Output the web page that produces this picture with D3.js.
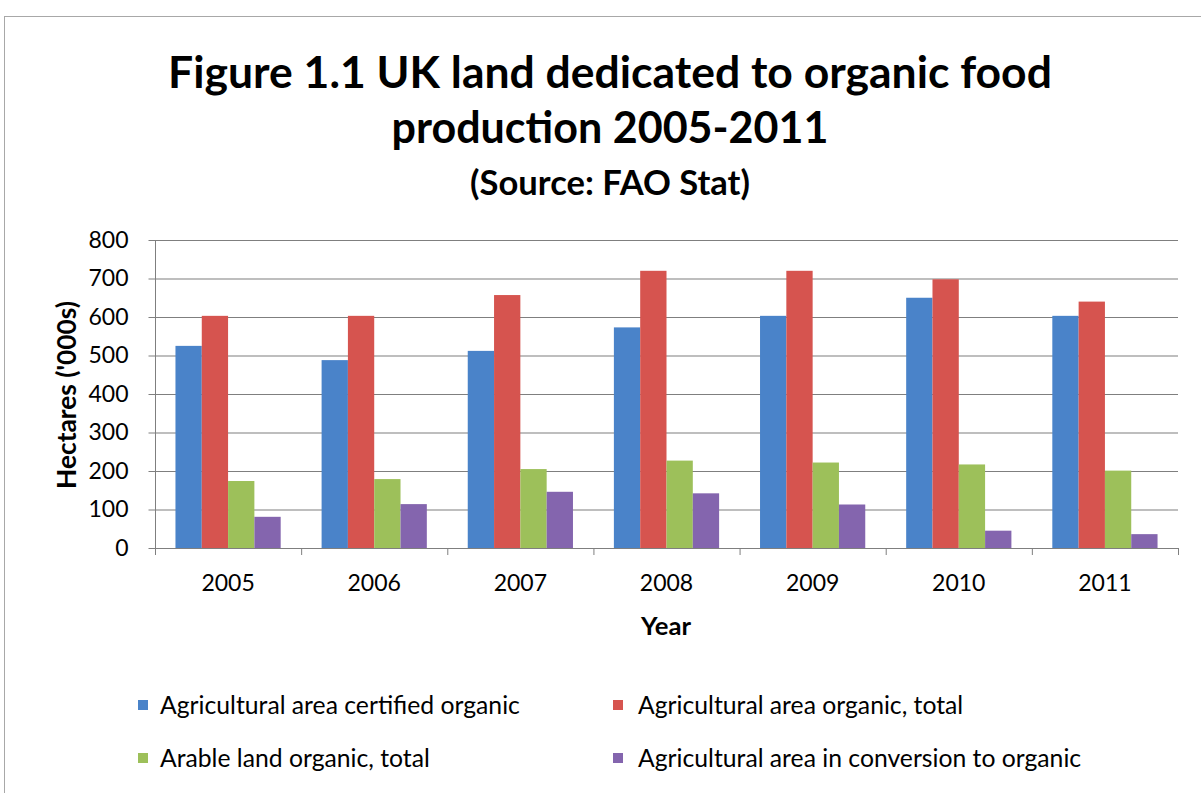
<!DOCTYPE html>
<html><head><meta charset="utf-8">
<script src="https://cdn.jsdelivr.net/npm/d3@7"></script>
<style>body{margin:0;background:#fff;} text{font-family:Lato, "Open Sans", sans-serif; fill:#000;}</style>
</head><body>
<svg id="c" width="1201" height="793"></svg>
<script>
const years = ["2005","2006","2007","2008","2009","2010","2011"];
const seriesNames = ["Agricultural area certified organic","Agricultural area organic, total","Arable land organic, total","Agricultural area in conversion to organic"];
const certified = [525, 488, 512, 573, 603, 650, 603];
const organicTotal = [603, 603, 657, 720, 720, 698, 640];
const arable = [174, 179, 205, 227, 222, 217, 201];
const conversion = [81, 114, 146, 142, 113, 45, 36];
const yTicks = [0,100,200,300,400,500,600,700,800];
const colors = ["#4a83c9","#d6544f","#9dc05a","#8465ae"];
const seriesValues = [certified, organicTotal, arable, conversion];

const svg = d3.select("#c");
svg.append("rect").attr("x",4.5).attr("y",16.5).attr("width",1300).attr("height",900).attr("fill","#fff").attr("stroke","#a8a8a8");

function fit(t, w){ const l=t.node().getComputedTextLength(); const fs=parseFloat(t.attr("font-size")); const n=fs*w/l; t.attr("font-size", n); return n; }

const x0 = d3.scaleBand().domain(years).range([155,1178]).paddingInner(0.28).paddingOuter(0.14);
const x1 = d3.scaleBand().domain(d3.range(4)).range([0,x0.bandwidth()]);
const xb = d3.scaleBand().domain(years).range([155,1178]);
const y = d3.scaleLinear().domain([0,800]).range([548,240]);

// gridlines
svg.append("g").selectAll("line").data(yTicks.filter(d=>d>0)).join("line")
  .attr("x1",155).attr("x2",1178).attr("y1",d=>y(d)+0.5).attr("y2",d=>y(d)+0.5)
  .attr("stroke","#7f7f7f").attr("stroke-width",1.2);

// bars
const g = svg.append("g");
years.forEach((yr,i)=>{
  seriesValues.forEach((vals,s)=>{
    g.append("rect").attr("x",x0(yr)+x1(s)).attr("width",x1.bandwidth())
     .attr("y",y(vals[i])).attr("height",y(0)-y(vals[i])).attr("fill",colors[s]);
  });
});

// y axis
const ya = svg.append("g").attr("transform","translate(155.5,0)")
  .call(d3.axisLeft(y).tickValues(yTicks).tickSize(7).tickPadding(20));
ya.select(".domain").attr("stroke","#7f7f7f").attr("d","M0,240V548");
ya.selectAll(".tick line").attr("stroke","#7f7f7f");
ya.selectAll("text").attr("font-size",23).attr("font-family","Lato").attr("fill","#000");

// x axis
const xa = svg.append("g").attr("transform","translate(0,548.5)")
  .call(d3.axisBottom(xb).tickSize(0).tickPadding(26));
xa.select(".domain").attr("stroke","#7f7f7f").attr("d","M155,0H1178");
xa.selectAll("text").attr("font-size",23).attr("font-family","Lato").attr("fill","#000");
svg.append("g").selectAll("line").data(d3.range(years.length+1)).join("line")
  .attr("x1",d=>155+d*xb.step()+0.5).attr("x2",d=>155+d*xb.step()+0.5)
  .attr("y1",548).attr("y2",555).attr("stroke","#7f7f7f");

// titles
const t1 = svg.append("text").attr("x",610).attr("y",88).attr("text-anchor","middle").attr("font-weight","bold").attr("font-size",40).text("Figure 1.1 UK land dedicated to organic food");
fit(t1,884);
const t2 = svg.append("text").attr("x",610).attr("y",143).attr("text-anchor","middle").attr("font-weight","bold").attr("font-size",40).text("production 2005-2011");
fit(t2,437);
const t3 = svg.append("text").attr("x",610).attr("y",195).attr("text-anchor","middle").attr("font-weight","bold").attr("font-size",26).text("(Source: FAO Stat)");
fit(t3,280);

const yl = svg.append("text").attr("transform","translate(76,395) rotate(-90)").attr("text-anchor","middle").attr("font-weight","bold").attr("font-size",21).text("Hectares ('000s)");
fit(yl,188);
const xl = svg.append("text").attr("x",666).attr("y",635).attr("text-anchor","middle").attr("font-weight","bold").attr("font-size",23).text("Year");
fit(xl,50);

// legend
const legPos = [[138,707],[613,707],[138,760],[613,760]];
let legFs = 21;
seriesNames.forEach((n,i)=>{
  svg.append("rect").attr("x",legPos[i][0]).attr("y",legPos[i][1]-7).attr("width",10).attr("height",10).attr("fill",colors[i]);
  const t = svg.append("text").attr("x",legPos[i][0]+(i%2===0?22:25)).attr("y",legPos[i][1]+7).attr("font-size",legFs).text(n);
  if(i===0) legFs = fit(t,360); else t.attr("font-size",legFs);
});
</script>
</body></html>
